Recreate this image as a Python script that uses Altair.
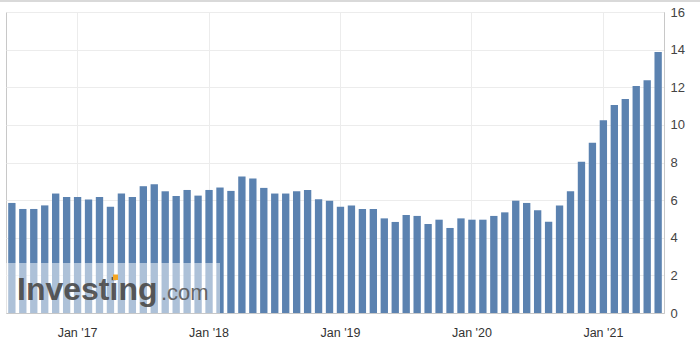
import altair as alt
import pandas as pd

# Monthly categories: Jul 2016 .. Jun 2021
months = [d.strftime("%Y-%m") for d in pd.date_range("2016-07-01", periods=60, freq="MS")]
values = [5.85, 5.53, 5.53, 5.72, 6.35, 6.17, 6.17, 6.03, 6.17, 5.65,
          6.35, 6.17, 6.74, 6.84, 6.47, 6.22, 6.54, 6.24, 6.54, 6.67,
          6.49, 7.25, 7.15, 6.65, 6.35, 6.35, 6.47, 6.54, 6.04, 5.97,
          5.65, 5.72, 5.53, 5.53, 5.03, 4.84, 5.21, 5.16, 4.73, 4.96,
          4.52, 5.03, 4.96, 4.96, 5.16, 5.35, 5.97, 5.85, 5.46, 4.85,
          5.71, 6.47, 8.04, 9.05, 10.24, 11.06, 11.38, 12.07, 12.37, 13.88]
jan_ticks = ["2017-01", "2018-01", "2019-01", "2020-01", "2021-01"]
y_ticks = [0, 2, 4, 6, 8, 10, 12, 14, 16]

df = pd.DataFrame({"month": months, "value": values})
one = pd.DataFrame({"k": [0]})

FONT = "Liberation Sans"

bars = alt.Chart(df).mark_bar(color="#5b82b0").encode(
    x=alt.X("month:O", sort=None, title=None,
            scale=alt.Scale(paddingInner=0.33, paddingOuter=0.2),
            axis=alt.Axis(values=jan_ticks, labelAngle=0, bandPosition=0.5,
                          labelExpr="'Jan \\'' + substring(datum.value, 2, 4)",
                          grid=True, gridColor="#ececec", ticks=False,
                          domainColor="#c8c8c8", labelPadding=13,
                          labelFontSize=12.5, labelColor="#333333", labelFont=FONT)),
    y=alt.Y("value:Q", title=None,
            scale=alt.Scale(domain=[0, 16], nice=False),
            axis=alt.Axis(orient="right", values=y_ticks, grid=True, gridColor="#ececec",
                          ticks=False, domainColor="#c8c8c8", labelPadding=6,
                          labelFontSize=13, labelColor="#444444", labelFont=FONT)),
)

wm_box = alt.Chart(one).mark_rect(color="white", opacity=0.5).encode(
    x=alt.value(-6), x2=alt.value(214), y=alt.value(251), y2=alt.value(301)
)
wm_text1 = alt.Chart(one).mark_text(
    text="Investing", font=FONT, fontSize=32, fontWeight="bold", color="#4a4a4a",
    align="left", baseline="alphabetic", opacity=0.9
).encode(x=alt.value(11), y=alt.value(288))
wm_text2 = alt.Chart(one).mark_text(
    text=".com", font=FONT, fontSize=22, color="#5a5a5a",
    align="left", baseline="alphabetic", opacity=0.9
).encode(x=alt.value(155), y=alt.value(288))
wm_dot = alt.Chart(one).mark_rect(color="#f5a623").encode(
    x=alt.value(107), x2=alt.value(112), y=alt.value(262.5), y2=alt.value(268)
)

top_rule = alt.Chart(one).mark_rule(color="#cccccc", strokeWidth=1.5).encode(
    x=alt.value(-6), x2=alt.value(694), y=alt.value(-11)
)

chart = alt.layer(bars, wm_box, wm_text1, wm_text2, wm_dot, top_rule).properties(
    width=658, height=301,
    autosize=alt.AutoSizeParams(type="none"),
    padding={"left": 6, "top": 12, "right": 36, "bottom": 37},
    background="white",
).configure_view(stroke="#c8c8c8")

chart.save("out.html", embed_options={"renderer": "svg", "actions": False})
